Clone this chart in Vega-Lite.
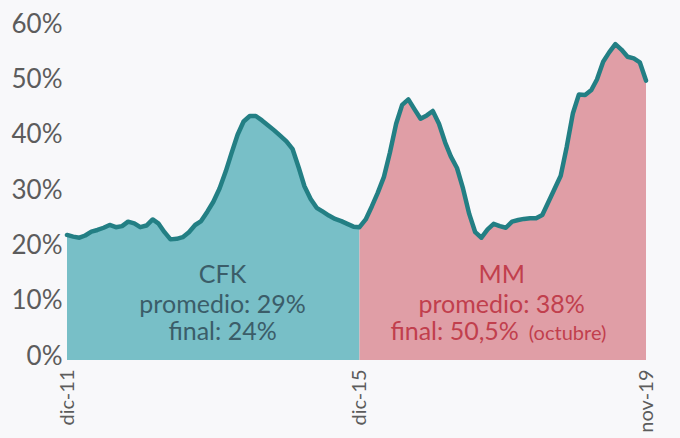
{
  "$schema": "https://vega.github.io/schema/vega-lite/v6.json",
  "width": 579,
  "height": 332,
  "autosize": {"type": "none"},
  "padding": {"left": 67, "top": 28, "right": 34, "bottom": 78},
  "background": "#f8f8fa",
  "config": {"view": {"stroke": null}, "font": "Lato"},
  "datasets": {
    "serie": [
      {"fecha": "2011-12-01", "valor": 22.6, "gobierno": "CFK"},
      {"fecha": "2012-01-01", "valor": 22.3, "gobierno": "CFK"},
      {"fecha": "2012-02-01", "valor": 22.1, "gobierno": "CFK"},
      {"fecha": "2012-03-01", "valor": 22.5, "gobierno": "CFK"},
      {"fecha": "2012-04-01", "valor": 23.2, "gobierno": "CFK"},
      {"fecha": "2012-05-01", "valor": 23.5, "gobierno": "CFK"},
      {"fecha": "2012-06-01", "valor": 23.9, "gobierno": "CFK"},
      {"fecha": "2012-07-01", "valor": 24.4, "gobierno": "CFK"},
      {"fecha": "2012-08-01", "valor": 24.0, "gobierno": "CFK"},
      {"fecha": "2012-09-01", "valor": 24.2, "gobierno": "CFK"},
      {"fecha": "2012-10-01", "valor": 25.0, "gobierno": "CFK"},
      {"fecha": "2012-11-01", "valor": 24.7, "gobierno": "CFK"},
      {"fecha": "2012-12-01", "valor": 24.0, "gobierno": "CFK"},
      {"fecha": "2013-01-01", "valor": 24.3, "gobierno": "CFK"},
      {"fecha": "2013-02-01", "valor": 25.4, "gobierno": "CFK"},
      {"fecha": "2013-03-01", "valor": 24.7, "gobierno": "CFK"},
      {"fecha": "2013-04-01", "valor": 23.1, "gobierno": "CFK"},
      {"fecha": "2013-05-01", "valor": 21.8, "gobierno": "CFK"},
      {"fecha": "2013-06-01", "valor": 21.9, "gobierno": "CFK"},
      {"fecha": "2013-07-01", "valor": 22.2, "gobierno": "CFK"},
      {"fecha": "2013-08-01", "valor": 23.1, "gobierno": "CFK"},
      {"fecha": "2013-09-01", "valor": 24.4, "gobierno": "CFK"},
      {"fecha": "2013-10-01", "valor": 25.1, "gobierno": "CFK"},
      {"fecha": "2013-11-01", "valor": 26.8, "gobierno": "CFK"},
      {"fecha": "2013-12-01", "valor": 28.6, "gobierno": "CFK"},
      {"fecha": "2014-01-01", "valor": 31.0, "gobierno": "CFK"},
      {"fecha": "2014-02-01", "valor": 34.1, "gobierno": "CFK"},
      {"fecha": "2014-03-01", "valor": 37.3, "gobierno": "CFK"},
      {"fecha": "2014-04-01", "valor": 40.7, "gobierno": "CFK"},
      {"fecha": "2014-05-01", "valor": 43.1, "gobierno": "CFK"},
      {"fecha": "2014-06-01", "valor": 44.1, "gobierno": "CFK"},
      {"fecha": "2014-07-01", "valor": 44.1, "gobierno": "CFK"},
      {"fecha": "2014-08-01", "valor": 43.3, "gobierno": "CFK"},
      {"fecha": "2014-09-01", "valor": 42.4, "gobierno": "CFK"},
      {"fecha": "2014-10-01", "valor": 41.5, "gobierno": "CFK"},
      {"fecha": "2014-11-01", "valor": 40.5, "gobierno": "CFK"},
      {"fecha": "2014-12-01", "valor": 39.5, "gobierno": "CFK"},
      {"fecha": "2015-01-01", "valor": 38.1, "gobierno": "CFK"},
      {"fecha": "2015-02-01", "valor": 34.7, "gobierno": "CFK"},
      {"fecha": "2015-03-01", "valor": 31.4, "gobierno": "CFK"},
      {"fecha": "2015-04-01", "valor": 29.1, "gobierno": "CFK"},
      {"fecha": "2015-05-01", "valor": 27.5, "gobierno": "CFK"},
      {"fecha": "2015-06-01", "valor": 26.8, "gobierno": "CFK"},
      {"fecha": "2015-07-01", "valor": 26.1, "gobierno": "CFK"},
      {"fecha": "2015-08-01", "valor": 25.5, "gobierno": "CFK"},
      {"fecha": "2015-09-01", "valor": 25.1, "gobierno": "CFK"},
      {"fecha": "2015-10-01", "valor": 24.6, "gobierno": "CFK"},
      {"fecha": "2015-11-01", "valor": 24.1, "gobierno": "CFK"},
      {"fecha": "2015-12-01", "valor": 24.0, "gobierno": "CFK"},
      {"fecha": "2015-12-01", "valor": 24.0, "gobierno": "MM"},
      {"fecha": "2016-01-01", "valor": 25.4, "gobierno": "MM"},
      {"fecha": "2016-02-01", "valor": 27.8, "gobierno": "MM"},
      {"fecha": "2016-03-01", "valor": 30.2, "gobierno": "MM"},
      {"fecha": "2016-04-01", "valor": 33.1, "gobierno": "MM"},
      {"fecha": "2016-05-01", "valor": 37.5, "gobierno": "MM"},
      {"fecha": "2016-06-01", "valor": 42.7, "gobierno": "MM"},
      {"fecha": "2016-07-01", "valor": 46.1, "gobierno": "MM"},
      {"fecha": "2016-08-01", "valor": 47.1, "gobierno": "MM"},
      {"fecha": "2016-09-01", "valor": 45.3, "gobierno": "MM"},
      {"fecha": "2016-10-01", "valor": 43.6, "gobierno": "MM"},
      {"fecha": "2016-11-01", "valor": 44.2, "gobierno": "MM"},
      {"fecha": "2016-12-01", "valor": 45.0, "gobierno": "MM"},
      {"fecha": "2017-01-01", "valor": 42.7, "gobierno": "MM"},
      {"fecha": "2017-02-01", "valor": 39.3, "gobierno": "MM"},
      {"fecha": "2017-03-01", "valor": 36.8, "gobierno": "MM"},
      {"fecha": "2017-04-01", "valor": 34.7, "gobierno": "MM"},
      {"fecha": "2017-05-01", "valor": 31.0, "gobierno": "MM"},
      {"fecha": "2017-06-01", "valor": 26.4, "gobierno": "MM"},
      {"fecha": "2017-07-01", "valor": 23.1, "gobierno": "MM"},
      {"fecha": "2017-08-01", "valor": 22.1, "gobierno": "MM"},
      {"fecha": "2017-09-01", "valor": 23.6, "gobierno": "MM"},
      {"fecha": "2017-10-01", "valor": 24.6, "gobierno": "MM"},
      {"fecha": "2017-11-01", "valor": 24.2, "gobierno": "MM"},
      {"fecha": "2017-12-01", "valor": 23.9, "gobierno": "MM"},
      {"fecha": "2018-01-01", "valor": 25.0, "gobierno": "MM"},
      {"fecha": "2018-02-01", "valor": 25.3, "gobierno": "MM"},
      {"fecha": "2018-03-01", "valor": 25.5, "gobierno": "MM"},
      {"fecha": "2018-04-01", "valor": 25.6, "gobierno": "MM"},
      {"fecha": "2018-05-01", "valor": 25.6, "gobierno": "MM"},
      {"fecha": "2018-06-01", "valor": 26.2, "gobierno": "MM"},
      {"fecha": "2018-07-01", "valor": 28.5, "gobierno": "MM"},
      {"fecha": "2018-08-01", "valor": 30.9, "gobierno": "MM"},
      {"fecha": "2018-09-01", "valor": 33.3, "gobierno": "MM"},
      {"fecha": "2018-10-01", "valor": 38.5, "gobierno": "MM"},
      {"fecha": "2018-11-01", "valor": 44.6, "gobierno": "MM"},
      {"fecha": "2018-12-01", "valor": 48.0, "gobierno": "MM"},
      {"fecha": "2019-01-01", "valor": 47.9, "gobierno": "MM"},
      {"fecha": "2019-02-01", "valor": 48.8, "gobierno": "MM"},
      {"fecha": "2019-03-01", "valor": 50.7, "gobierno": "MM"},
      {"fecha": "2019-04-01", "valor": 53.9, "gobierno": "MM"},
      {"fecha": "2019-05-01", "valor": 55.6, "gobierno": "MM"},
      {"fecha": "2019-06-01", "valor": 57.1, "gobierno": "MM"},
      {"fecha": "2019-07-01", "valor": 56.1, "gobierno": "MM"},
      {"fecha": "2019-08-01", "valor": 54.8, "gobierno": "MM"},
      {"fecha": "2019-09-01", "valor": 54.5, "gobierno": "MM"},
      {"fecha": "2019-10-01", "valor": 53.8, "gobierno": "MM"},
      {"fecha": "2019-11-01", "valor": 50.5, "gobierno": "MM"}
    ],
    "notas": [
      {"grupo": "CFK", "texto": "CFK", "fecha": "2014-01-16", "valor": 13.9},
      {"grupo": "CFK", "texto": "promedio: 29%", "fecha": "2014-01-16", "valor": 8.5},
      {"grupo": "CFK", "texto": "final: 24%", "fecha": "2014-01-16", "valor": 3.6},
      {"grupo": "MM", "texto": "MM", "fecha": "2017-11-10", "valor": 13.9},
      {"grupo": "MM", "texto": "promedio: 38%", "fecha": "2017-11-10", "valor": 8.5}
    ],
    "nota_final": [
      {"texto": "final: 50,5%", "fecha": "2018-03-01", "valor": 3.6}
    ],
    "nota_mes": [
      {"texto": "(octubre)", "fecha": "2018-03-01", "valor": 3.6}
    ]
  },
  "encoding": {
    "x": {
      "field": "fecha",
      "type": "temporal",
      "title": null,
      "scale": {
        "type": "utc",
        "domain": [1322697600000, 1572566400000],
        "domainMid": 1448928000000
      },
      "axis": {
        "values": [1322697600000, 1448928000000, 1572566400000],
        "labelExpr": "(utcFormat(datum.value, '%m') == '12' ? 'dic-' : 'nov-') + utcFormat(datum.value, '%y')",
        "labelAngle": 270,
        "labelAlign": "right",
        "labelBaseline": "middle",
        "labelPadding": 9,
        "labelFontSize": 20,
        "labelFont": "Lato",
        "labelColor": "#5c5c5c",
        "labelFlush": false,
        "labelOverlap": false,
        "ticks": false,
        "domain": false,
        "grid": false
      }
    },
    "y": {
      "field": "valor",
      "type": "quantitative",
      "title": null,
      "stack": null,
      "scale": {"domain": [0, 60], "nice": false},
      "axis": {
        "values": [0, 10, 20, 30, 40, 50, 60],
        "labelExpr": "datum.value + '%'",
        "labelPadding": 5,
        "labelFontSize": 26,
        "labelFont": "Lato",
        "labelColor": "#5c5c5c",
        "labelBaseline": "middle",
        "labelOffset": -4,
        "labelFlush": false,
        "labelOverlap": false,
        "ticks": false,
        "domain": false,
        "grid": false
      }
    }
  },
  "layer": [
    {
      "data": {"name": "serie"},
      "mark": {"type": "area", "opacity": 1},
      "encoding": {
        "color": {
          "field": "gobierno",
          "type": "nominal",
          "scale": {"domain": ["CFK", "MM"], "range": ["#78bfc7", "#e09ea6"]},
          "legend": null
        }
      }
    },
    {
      "data": {"name": "serie"},
      "mark": {"type": "line", "color": "#237f84", "strokeWidth": 4.5, "strokeJoin": "round", "strokeCap": "round"},
      "encoding": {}
    },
    {
      "data": {"name": "notas"},
      "transform": [{"filter": "datum.grupo == 'CFK'"}],
      "mark": {"type": "text", "fontSize": 25, "font": "Lato", "align": "center", "baseline": "alphabetic", "color": "#3b5d69"},
      "encoding": {"text": {"field": "texto"}}
    },
    {
      "data": {"name": "notas"},
      "transform": [{"filter": "datum.grupo == 'MM'"}],
      "mark": {"type": "text", "fontSize": 25, "font": "Lato", "align": "center", "baseline": "alphabetic", "color": "#c13f4d"},
      "encoding": {"text": {"field": "texto"}}
    },
    {
      "data": {"name": "nota_final"},
      "mark": {"type": "text", "fontSize": 25, "font": "Lato", "align": "right", "dx": -5, "baseline": "alphabetic", "color": "#c13f4d"},
      "encoding": {"text": {"field": "texto"}}
    },
    {
      "data": {"name": "nota_mes"},
      "mark": {"type": "text", "fontSize": 20, "font": "Lato", "align": "left", "dx": 5, "baseline": "alphabetic", "color": "#c13f4d"},
      "encoding": {"text": {"field": "texto"}}
    }
  ]
}
